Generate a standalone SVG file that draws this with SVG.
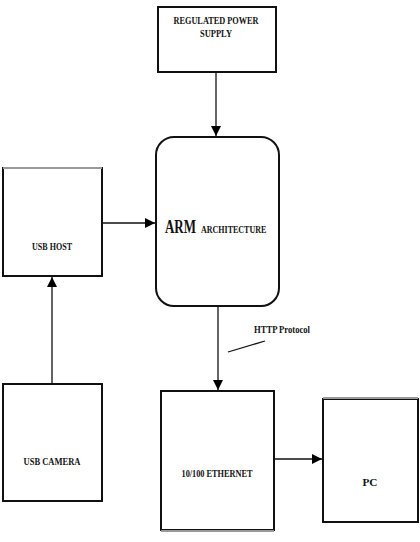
<svg xmlns="http://www.w3.org/2000/svg" width="420" height="542" viewBox="0 0 420 542">
<style>
.box{fill:#fff;stroke:#111;stroke-width:2}
.sh{fill:none;stroke:#999;stroke-width:2}
.t{font-family:"Liberation Serif","Times New Roman",serif;font-weight:bold;font-size:10px;fill:#111;text-anchor:middle}
.c{stroke:#111;stroke-width:1.3;fill:none}
</style>
<defs>
<marker id="ah" viewBox="0 0 10 10" refX="10" refY="5" markerWidth="10" markerHeight="10" markerUnits="userSpaceOnUse" orient="auto">
<path d="M0,0 L10,5 L0,10 Z" fill="#000"/>
</marker>
</defs>
<rect width="420" height="542" fill="#fff"/>
<g id="connectors">
<line class="c" x1="216" y1="73" x2="216" y2="136" marker-end="url(#ah)"/>
<line class="c" x1="103" y1="223" x2="155" y2="223" marker-end="url(#ah)"/>
<line class="c" x1="52" y1="383" x2="52" y2="277" marker-end="url(#ah)"/>
<line class="c" x1="218" y1="307" x2="218" y2="390" marker-end="url(#ah)"/>
<line class="c" x1="275" y1="459" x2="322" y2="459" marker-end="url(#ah)"/>
<line class="c" x1="228" y1="352" x2="265" y2="341"/>
</g>
<g id="power">
<rect class="box" x="158" y="7" width="118" height="65"/>
<text class="t" x="216" y="24" textLength="85" lengthAdjust="spacingAndGlyphs">REGULATED POWER</text>
<text class="t" x="216" y="37" textLength="32" lengthAdjust="spacingAndGlyphs">SUPPLY</text>
</g>
<g id="arm">
<rect class="box" x="156" y="137" width="123" height="169" rx="18" ry="18"/>
<text transform="translate(165,233) scale(0.72,1)" x="0" y="0" font-family="Liberation Serif,serif" font-weight="bold" font-size="18" fill="#111">ARM</text>
<text transform="translate(201,233) scale(0.8,1)" x="0" y="0" font-family="Liberation Serif,serif" font-weight="bold" font-size="10" fill="#111">ARCHITECTURE</text>
</g>
<g id="usbhost">
<rect class="box" x="3" y="168" width="99" height="108"/>
<line class="sh" x1="3" y1="168" x2="102" y2="168"/>
<text class="t" x="52" y="250" textLength="40" lengthAdjust="spacingAndGlyphs">USB HOST</text>
</g>
<g id="usbcamera">
<rect class="box" x="3" y="384" width="99" height="117"/>
<text class="t" x="52" y="465" textLength="57" lengthAdjust="spacingAndGlyphs">USB CAMERA</text>
</g>
<g id="ethernet">
<rect class="box" x="161" y="391" width="113" height="139"/>
<line class="sh" x1="161" y1="531" x2="274" y2="531"/>
<text class="t" x="217" y="477" textLength="71" lengthAdjust="spacingAndGlyphs">10/100 ETHERNET</text>
</g>
<g id="pc">
<rect class="box" x="323" y="399" width="95" height="123"/>
<line class="sh" x1="323" y1="398" x2="418" y2="398"/>
<text class="t" x="370" y="486" font-size="12" textLength="15" lengthAdjust="spacingAndGlyphs">PC</text>
</g>
<g id="http">
<text class="t" x="282" y="333" text-anchor="start" textLength="56" lengthAdjust="spacingAndGlyphs">HTTP Protocol</text>
</g>
</svg>
